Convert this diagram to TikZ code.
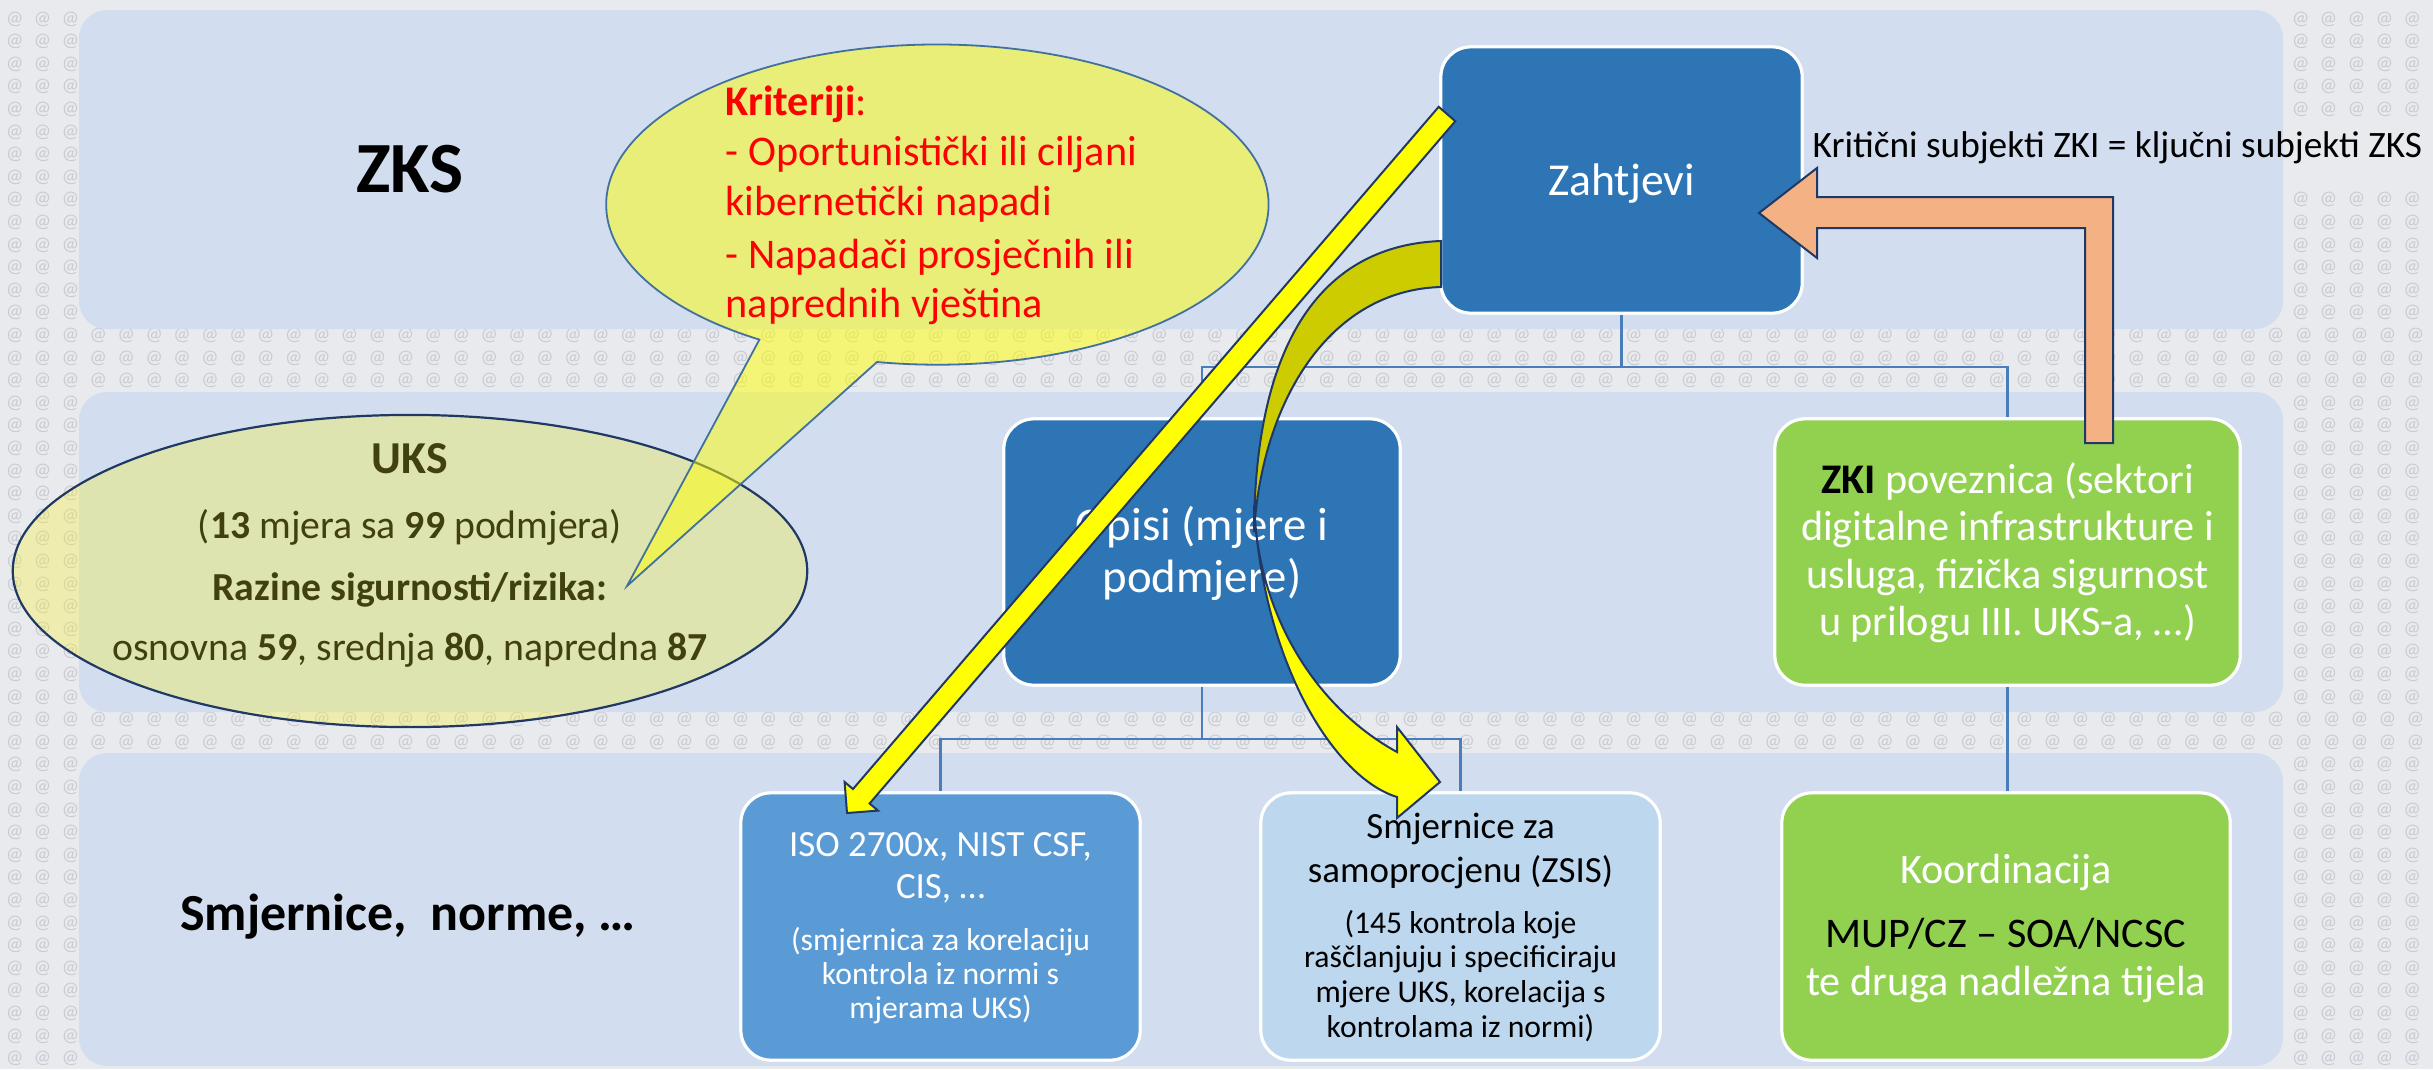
\documentclass[tikz,border=0pt]{standalone}
\usepackage{fontspec}
\setmainfont{Carlito}
\definecolor{bgc}{HTML}{E9EAEE}
\definecolor{bandc}{HTML}{D2DEEF}
\definecolor{darkblue}{HTML}{2E75B6}
\definecolor{midblue}{HTML}{5B9BD5}
\definecolor{lightblue}{HTML}{BDD7EE}
\definecolor{greenf}{HTML}{92D050}
\definecolor{connc}{HTML}{4A7EBB}
\definecolor{navy}{HTML}{203864}
\definecolor{bubbleb}{HTML}{41719C}
\definecolor{orangef}{HTML}{F4B183}
\definecolor{olivef}{HTML}{CCCC00}
\definecolor{yel}{HTML}{FFFF00}
\definecolor{uksfill}{RGB}{250,245,32}
\definecolor{ukstext}{RGB}{64,64,16}
\definecolor{atc}{HTML}{C9CBD2}
\newcommand\fsz[1]{\fontsize{#1}{#1}\selectfont}
\newcommand\atrowtext[1]{\foreach \c in {1,...,#1}{\makebox[0.279cm]{@}}}
\begin{document}
\begin{tikzpicture}[x=0.01cm,y=-0.01cm,
  band/.style={fill=bandc, rounded corners=0.28cm},
  boxst/.style={draw=white, line width=0.03cm, rounded corners=0.3cm, inner sep=0},
  txt/.style={inner sep=0, anchor=base},
  conn/.style={draw=connc, line width=0.025cm},
  blk/.style={draw=navy, line width=0.02cm, line join=miter},
  atrow/.style={anchor=west, inner sep=0, text=atc, font=\fontsize{5.5}{6}\selectfont}]
\useasboundingbox (0,0) rectangle (2433,1069);
\fill[bgc] (0,0) rectangle (2433,1069);
% background @ texture, only where the background shows
\foreach \r in {14,15,16,31,32} {
  \node[atrow] (atg\r) at (0,{19+22.6*\r}) {\atrowtext{87}};
}
\foreach \r in {0,...,13,17,18,...,30,33,34,...,46} {
  \node[atrow] (atl\r) at (0,{19+22.6*\r}) {\atrowtext{3}};
}
\foreach \r in {0,...,4,8,9,...,13,17,18,...,30,33,34,...,46} {
  \node[atrow] (atr\r) at (2286,{19+22.6*\r}) {\atrowtext{5}};
}
% bands
\fill[band] (79,10) rectangle (2283,329);
\fill[band] (79,392) rectangle (2283,712);
\fill[band] (79,753) rectangle (2283,1066);
% band labels
\node[txt, font=\fsz{20.5}\bfseries] (zks) at (410,192) {ZKS};
\node[txt, font=\fsz{14.8}\bfseries] (smjlabel) at (408,930) {Smjernice,\ \ norme, …};
% boxes
\node[boxst, fill=darkblue, minimum width=3.61cm, minimum height=2.66cm] (zah) at (1621.5,180) {};
\node[boxst, fill=darkblue, minimum width=3.96cm, minimum height=2.66cm] (opisi) at (1202,552) {};
\node[boxst, fill=greenf, minimum width=4.65cm, minimum height=2.66cm] (zki) at (2007.5,552) {};
\node[boxst, fill=midblue, minimum width=3.99cm, minimum height=2.67cm] (iso) at (940.5,926.5) {};
\node[boxst, fill=lightblue, minimum width=3.99cm, minimum height=2.67cm] (smj) at (1460.5,926.5) {};
\node[boxst, fill=greenf, minimum width=4.48cm, minimum height=2.67cm] (koo) at (2006,926.5) {};
% connectors
\coordinate (j1) at (zah.south |- 0,367);
\coordinate (j2) at (opisi.south |- 0,739);
\draw[conn] (zah.south) -- (j1) -| (opisi.north);
\draw[conn] (j1) -| (zki.north);
\draw[conn] (opisi.south) -- (j2) -| (iso.north);
\draw[conn] (j2) -| (smj.north);
\draw[conn] (zki.south) -- (zki.south |- koo.north);
% redraw boxes on top of connector ends
\node[boxst, fill=darkblue, minimum width=3.61cm, minimum height=2.66cm] at (zah) {};
\node[boxst, fill=darkblue, minimum width=3.96cm, minimum height=2.66cm] at (opisi) {};
\node[boxst, fill=greenf, minimum width=4.65cm, minimum height=2.66cm] at (zki) {};
\node[boxst, fill=midblue, minimum width=3.99cm, minimum height=2.67cm] at (iso) {};
\node[boxst, fill=lightblue, minimum width=3.99cm, minimum height=2.67cm] at (smj) {};
\node[boxst, fill=greenf, minimum width=4.48cm, minimum height=2.67cm] at (koo) {};
% box texts
\begin{scope}[every node/.append style={txt}]
\node[text=white, font=\fsz{13}] (zaht) at (1621.5,195) {Zahtjevi};
\node[text=white, font=\fsz{13.3}] (op1) at (1202,540) {Opisi (mjere i};
\node[text=white, font=\fsz{13.3}] (op2) at (1202,592) {podmjere)};
\node[text=white, font=\fsz{12}] (zk1) at (2007.5,493) {\textcolor{black}{\bfseries ZKI} poveznica (sektori};
\node[text=white, font=\fsz{12}] (zk2) at (2007.5,540) {digitalne infrastrukture i};
\node[text=white, font=\fsz{12}] (zk3) at (2007.5,588) {usluga, fizička sigurnost};
\node[text=white, font=\fsz{12}] (zk4) at (2007.5,635) {u prilogu III. UKS-a, …)};
\node[text=white, font=\fsz{10.5}] (is1) at (940.5,856) {ISO 2700x, NIST CSF,};
\node[text=white, font=\fsz{10.5}] (is2) at (940.5,898) {CIS, …};
\node[text=white, font=\fsz{9}] (is3) at (940.5,950) {(smjernica za korelaciju};
\node[text=white, font=\fsz{9}] (is4) at (940.5,984) {kontrola iz normi s};
\node[text=white, font=\fsz{9}] (is5) at (940.5,1018) {mjerama UKS)};
\node[font=\fsz{10.5}] (sm1) at (1460.5,838) {Smjernice za};
\node[font=\fsz{10.5}] (sm2) at (1460.5,882) {samoprocjenu (ZSIS)};
\node[font=\fsz{9}] (sm3) at (1460.5,933) {(145 kontrola koje};
\node[font=\fsz{9}] (sm4) at (1460.5,967) {raščlanjuju i specificiraju};
\node[font=\fsz{9}] (sm5) at (1460.5,1002) {mjere UKS, korelacija s};
\node[font=\fsz{9}] (sm6) at (1460.5,1037) {kontrolama iz normi)};
\node[text=white, font=\fsz{12}] (ko1) at (2006,883) {Koordinacija};
\node[font=\fsz{12}] (ko2) at (2006,947) {MUP/CZ – SOA/NCSC};
\node[text=white, font=\fsz{12}] (ko3) at (2006,995) {te druga nadležna tijela};
\end{scope}
% UKS ellipse
\draw[draw=navy, line width=0.022cm, fill=uksfill, fill opacity=0.3] (410,571) ellipse [x radius=3.97cm, y radius=1.56cm];
\begin{scope}[every node/.append style={txt, text=ukstext}]
\node[font=\fsz{13}\bfseries] (uks1) at (410,473) {UKS};
\node[font=\fsz{11.3}] (uks2) at (410,538) {(\textbf{13} mjera sa \textbf{99} podmjera)};
\node[font=\fsz{11.3}\bfseries] (uks3) at (410,600) {Razine sigurnosti/rizika:};
\node[font=\fsz{11.3}] (uks4) at (410,660) {osnovna \textbf{59}, srednja \textbf{80}, napredna \textbf{87}};
\end{scope}
% Kriteriji bubble
\draw[draw=bubbleb, line width=0.018cm, fill=yel, fill opacity=0.5] (627,586) -- (877,362) arc[start angle=-100.5, end angle=237.5, x radius=3.31cm, y radius=1.6cm] -- cycle;
\begin{scope}[every node/.append style={inner sep=0, anchor=base west, text=red, font=\fsz{12}}]
\node (kr1) at (725,115) {\textbf{Kriteriji}:};
\node (kr2) at (725,165) {- Oportunistički ili ciljani};
\node (kr3) at (725,215) {kibernetički napadi};
\node (kr4) at (725,268) {- Napadači prosječnih ili};
\node (kr5) at (725,317) {naprednih vještina};
\end{scope}
% orange bent arrow
\draw[blk, fill=orangef] (2113,443) -- (2113,197) -- (1817,197) -- (1817,168) -- (1759,213) -- (1817,258) -- (1817,228) -- (2085,228) -- (2085,443) -- cycle;
\node[inner sep=0, anchor=base west, font=\fsz{10.6}] (krit) at (1812,157) {Kritični subjekti ZKI = ključni subjekti ZKS};
% curved arrow
\draw[blk, fill=yel] (1254,505) .. controls (1258,620) and (1320,710) .. (1397,752) -- (1397,727) -- (1440,782) -- (1397,818) -- (1397,797) .. controls (1335,778) and (1263,665) .. (1254,505) -- cycle;
\draw[blk, fill=olivef] (1441,241) .. controls (1330,245) and (1255,330) .. (1254,532) .. controls (1262,400) and (1330,290) .. (1441,287) -- cycle;
% straight arrow
\draw[blk, fill=yel] (1455.3,121.2) -- (869.6,803.5) -- (878,810.6) -- (847,813) -- (844.6,782) -- (853,789) -- (1438.7,106.8) -- cycle;
\end{tikzpicture}
\end{document}
